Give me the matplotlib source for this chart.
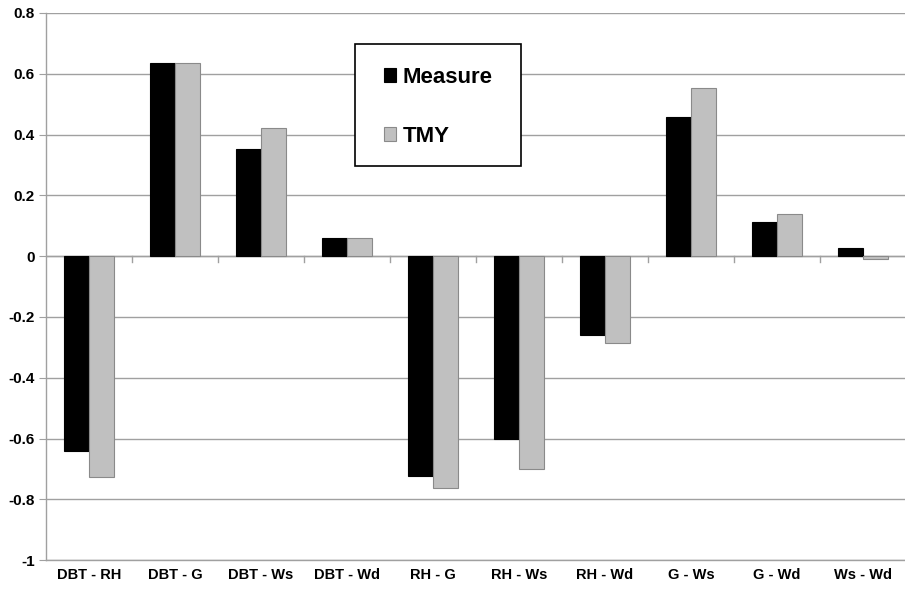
import numpy as np
import matplotlib.pyplot as plt
from matplotlib.patches import Rectangle

plt.rcParams['font.family'] = ['Liberation Sans', 'DejaVu Sans']

# Correlation data
pairs = ["DBT - RH", "DBT - G", "DBT - Ws", "DBT - Wd", "RH - G",
         "RH - Ws", "RH - Wd", "G - Ws", "G - Wd", "Ws - Wd"]
measure = [-0.640, 0.636, 0.354, 0.060, -0.722, -0.603, -0.258, 0.458, 0.113, 0.027]
tmy = [-0.727, 0.636, 0.423, 0.060, -0.763, -0.700, -0.285, 0.554, 0.139, -0.008]

W, H = 905, 589
fig = plt.figure(figsize=(W / 100, H / 100), dpi=100)
ax = fig.add_axes([0.0508, 0.049, 0.955, 0.929])

x = np.arange(len(pairs))
w = 0.286
ax.bar(x - w / 2, measure, w, color="black", edgecolor="black", linewidth=0.8,
       label="Measure", zorder=3)
ax.bar(x + w / 2, tmy, w, color="#c0c0c0", edgecolor="#8a8a8a", linewidth=0.8,
       label="TMY", zorder=3)

ax.set_ylim(-1, 0.8)
ax.set_xlim(-0.5, len(pairs) - 0.5 + 0.05)
ax.set_yticks(np.arange(-1, 0.81, 0.2))
ax.set_yticklabels(["-1", "-0.8", "-0.6", "-0.4", "-0.2", "0", "0.2", "0.4", "0.6", "0.8"])
ax.grid(axis="y", color="#a0a0a0", linewidth=1, zorder=0)

for s in ["top", "right"]:
    ax.spines[s].set_visible(False)
for s in ["left", "bottom"]:
    ax.spines[s].set_color("#a0a0a0")
    ax.spines[s].set_linewidth(1)

ax.axhline(0, color="#a0a0a0", linewidth=1, zorder=2)
# category separator ticks on the zero line
for xs in np.arange(0.5, len(pairs) - 0.5, 1):
    ax.plot([xs, xs], [0, -0.018], color="#a0a0a0", linewidth=1, zorder=2)

ax.tick_params(axis="y", length=5, color="#a0a0a0", labelsize=11, pad=3)
ax.tick_params(axis="x", length=0, labelsize=10.5, pad=6)
ax.set_xticks(x)
ax.set_xticklabels(pairs)
for t in ax.get_xticklabels() + ax.get_yticklabels():
    t.set_fontweight("bold")

# legend box drawn separately, legend entries without frame
ax.add_patch(Rectangle((355 / W, 1 - 166 / H), 166 / W, 122 / H,
                       transform=fig.transFigure, facecolor="white",
                       edgecolor="black", linewidth=1.2, zorder=5, clip_on=False))
leg = ax.legend(loc="upper left", bbox_to_anchor=(384 / W, 1 - 67 / H),
                bbox_transform=fig.transFigure, frameon=False,
                prop={"weight": "bold", "size": 16},
                labelspacing=1.7, handlelength=0.55, handleheight=0.55,
                handletextpad=0.3, borderpad=0, borderaxespad=0)
leg.set_zorder(6)

fig.savefig("out.png", dpi=100)
